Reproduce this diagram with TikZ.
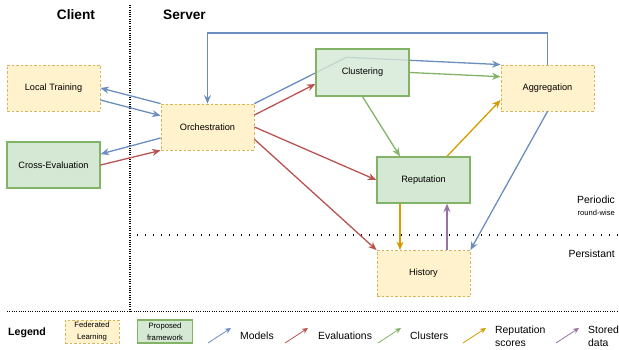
\documentclass[tikz,border=0pt]{standalone}
\usepackage{fontspec}
\setmainfont{Liberation Sans}
\usetikzlibrary{arrows.meta}
\definecolor{flfill}{HTML}{FFF2CC}
\definecolor{fldraw}{HTML}{D6B656}
\definecolor{pffill}{HTML}{D5E8D4}
\definecolor{pfdraw}{HTML}{82B366}
\definecolor{cmodel}{HTML}{6C8EBF}
\definecolor{ceval}{HTML}{B85450}
\definecolor{cclust}{HTML}{82B366}
\definecolor{crep}{HTML}{D79B00}
\definecolor{cstore}{HTML}{9673A6}

\begin{document}
\begin{tikzpicture}[x=1pt,y=-1pt,
    box/.style={minimum width=93pt,minimum height=46pt,inner sep=0pt,
      font=\fontsize{9.2}{11}\selectfont},
    fl/.style={box,draw=fldraw,fill=flfill,line width=0.8pt,dash pattern=on 2.5pt off 2pt},
    pf/.style={box,draw=pfdraw,fill=pffill,line width=1.3pt},
    arr/.style={line width=1.3pt,-{Stealth[length=8.5pt,width=7pt]}},
    models/.style={arr,cmodel},
    evals/.style={arr,ceval},
    clust/.style={arr,cclust},
    reps/.style={arr,crep},
    store/.style={arr,cstore},
    keyarr/.style={line width=0.8pt,-{Stealth[length=6pt,width=5.5pt]}},
    txt/.style={font=\fontsize{10.4}{12.5}\selectfont,inner sep=0pt},
    densedots/.style={line width=1.1pt,dash pattern=on 1pt off 1.3pt},
    sparsedots/.style={line width=1.2pt,dash pattern=on 1.2pt off 6.8pt}]
  \useasboundingbox (0,0) rectangle (619,350);

  % client / server split, periodic / persistant split, legend rule
  \draw[densedots] (130,5) -- (130,311.7);
  \draw[sparsedots] (137,235) -- (619,235);
  \draw[densedots] (7,311.7) -- (619,311.7);

  \node[font=\fontsize{13.7}{16}\selectfont\bfseries] (client) at (76,15) {Client};
  \node[font=\fontsize{13.7}{16}\selectfont\bfseries] (server) at (184.5,15) {Server};
  \node[txt,anchor=east] (periodic) at (615,200) {Periodic};
  \node[anchor=east,inner sep=0pt,font=\fontsize{7.6}{9}\selectfont] (roundwise) at (615,213) {round-wise};
  \node[txt,anchor=east] (persist) at (615,254) {Persistant};

  % boxes
  \node[fl] (local) at (53.5,88) {Local Training};
  \node[pf] (crosseval) at (53.5,165) {Cross-Evaluation};
  \node[fl] (orch) at (207.5,127) {Orchestration};
  \node[fl] (aggr) at (547.5,88) {Aggregation};
  \node[pf] (rep) at (423.5,180) {Reputation};
  \node[fl] (hist) at (423.5,273.5) {History};

  % models passing behind the clustering box
  \coordinate (bend) at (346.5,57.3);
  \draw[models] (orch.north east) -- (bend) -- (aggr.north west);
  \node[pf,fill opacity=0.8,text opacity=1,minimum height=47pt] (clusters) at (362.5,72.5) {Clustering};

  \draw[models] (orch.north west) -- (local.east);
  \draw[models] ([yshift=-12pt]local.east) -- ([yshift=11.3pt]orch.west);
  \draw[models] ([yshift=-11pt]orch.west) -- ([yshift=11pt]crosseval.east);
  \draw[evals] (crosseval.east) -- (orch.south west);

  \draw[evals] ([yshift=12pt]orch.east) -- ([yshift=-11.5pt]clusters.west);
  \draw[evals] (orch.east) -- (rep.west);
  \draw[evals] ([yshift=-12.3pt]orch.east) -- (hist.north west);

  \draw[models] (aggr.north) -- ([yshift=31.5pt]aggr.north) -| (orch.north);
  \draw[models] (aggr.south) -- (hist.north east);

  \draw[clust] (clusters.east) -- ([yshift=11.3pt]aggr.west);
  \draw[clust] (clusters.south) -- ([xshift=-23.5pt]rep.north);
  \draw[reps] ([xshift=23.5pt]rep.north) -- ([yshift=-12pt]aggr.west);
  \draw[reps] ([xshift=-23.5pt]rep.south) -- ([xshift=-23.5pt]hist.north);
  \draw[store] ([xshift=23.5pt]hist.north) -- ([xshift=23.5pt]rep.south);

  % legend
  \node[font=\fontsize{10.6}{12}\selectfont\bfseries,anchor=west,inner sep=0pt] (legend) at (8,333) {Legend};
  \node[fl,minimum width=54pt,minimum height=23pt,align=center,
    font=\fontsize{7.7}{12}\selectfont] (keyfl) at (92,331.5) {Federated\\Learning};
  \node[pf,minimum width=55pt,minimum height=23pt,align=center,line width=1.1pt,
    font=\fontsize{7.7}{12}\selectfont] (keypf) at (165,331.5) {Proposed\\framework};

  \coordinate (m0) at (208,343);   \coordinate (m1) at (231,328);
  \coordinate (e0) at (285,343);   \coordinate (e1) at (308,328);
  \coordinate (c0) at (378,343);   \coordinate (c1) at (401,328);
  \coordinate (r0) at (463,343);   \coordinate (r1) at (486,328);
  \coordinate (s0) at (556,343);   \coordinate (s1) at (579,328);
  \draw[keyarr,cmodel] (m0) -- (m1);
  \draw[keyarr,ceval] (e0) -- (e1);
  \draw[keyarr,cclust] (c0) -- (c1);
  \draw[keyarr,crep] (r0) -- (r1);
  \draw[keyarr,cstore] (s0) -- (s1);
  \node[txt,anchor=west] (keymodels) at (240,336) {Models};
  \node[txt,anchor=west] (keyevals) at (318,336) {Evaluations};
  \node[txt,anchor=west] (keyclust) at (410,336) {Clusters};
  \node[txt,anchor=west,align=left,font=\fontsize{10.4}{13}\selectfont] (keyrep) at (495,336.5) {Reputation\\scores};
  \node[txt,anchor=west,align=left,font=\fontsize{10.4}{13}\selectfont] (keystore) at (588,336.5) {Stored\\data};
\end{tikzpicture}
\end{document}
